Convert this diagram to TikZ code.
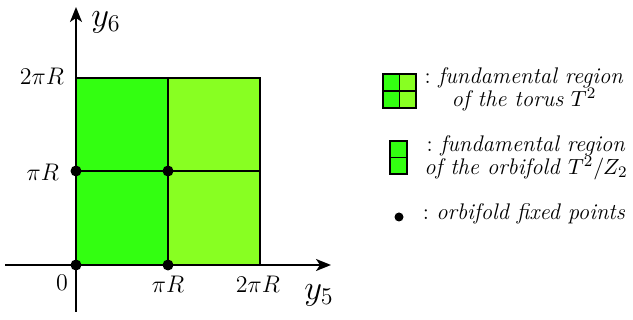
\documentclass[tikz,border=0pt]{standalone}
\usetikzlibrary{arrows.meta}
\definecolor{darkg}{RGB}{51,255,17}
\definecolor{lightg}{RGB}{136,255,34}
\begin{document}
\begin{tikzpicture}[x=0.5pt,y=-0.5pt,
  axis/.style={line width=1pt,-{Stealth[length=7.5pt,width=6pt,inset=2pt]}},
  border/.style={line width=1pt,line join=miter},
  fixdot/.style={circle,fill=black,inner sep=0pt,minimum size=5.5pt},
  tick/.style={font=\fontsize{11.5}{13}\selectfont},
  axlabel/.style={inner sep=0pt,font=\fontsize{16.5}{18}\selectfont},
  legend/.style={align=center,font=\fontsize{11.3}{11.5}\selectfont}]
\useasboundingbox (0,0) rectangle (633,320);
% corners
\coordinate (O) at (76,265);
\coordinate (A) at (168,265);
\coordinate (B) at (260,265);
\coordinate (C) at (76,171);
\coordinate (D) at (168,171);
\coordinate (E) at (260,171);
\coordinate (F) at (76,78);
\coordinate (G) at (168,78);
\coordinate (H) at (260,78);
\coordinate (xs) at (5,265);
\coordinate (xe) at (331,265);
\coordinate (ys) at (76,312);
\coordinate (ye) at (76,7);
% fills
\fill[darkg] (O) rectangle (G);
\fill[lightg] (A) rectangle (H);
\draw[border] (O) -- (F) -- (H) -- (B);
\draw[border] (A) -- (G);
\draw[border] (C) -- (E);
% axes
\draw[axis] (xs) -- (xe);
\draw[axis] (ys) -- (ye);
% dots
\node[fixdot] (d1) at (O) {};
\node[fixdot] (d2) at (A) {};
\node[fixdot] (d3) at (C) {};
\node[fixdot] (d4) at (D) {};
% labels
\node[tick,anchor=east] (l1) at (71,76) {$2\pi R$};
\node[tick,anchor=east] (l2) at (66,172) {$\pi R$};
\node[tick] (l3) at (62,283) {$0$};
\node[tick] (l4) at (168,284) {$\pi R$};
\node[tick] (l5) at (258,284) {$2\pi R$};
\node[axlabel] (y5) at (319,295) {$y_5$};
\node[axlabel] (y6) at (106,22) {$y_6$};
% legend icons
\fill[darkg] (383,74) rectangle (400,91);
\fill[lightg] (400,74) rectangle (416,91);
\fill[darkg] (383,91) rectangle (400,108);
\fill[lightg] (400,91) rectangle (416,108);
\draw[border,line width=0.9pt] (383,74) rectangle (416,108);
\draw[border,line width=0.9pt] (399.5,74) -- (399.5,108);
\draw[border,line width=0.9pt] (383,91) -- (416,91);
\fill[darkg] (390,141) rectangle (407,174);
\draw[border,line width=0.9pt] (390,141) rectangle (407,174);
\draw[border,line width=0.9pt] (390,157.5) -- (407,157.5);
\node[fixdot,minimum size=4.5pt] (ld) at (399,217) {};
% legend texts
\node[legend] (t1) at (524,89) {:~\textit{fundamental region}\\\textit{of the torus} $T^2$};
\node[legend] (t2) at (526,158) {:~\textit{fundamental region}\\\textit{of the orbifold} $T^2/Z_2$};
\node[legend] (t3) at (524,214) {:~\textit{orbifold fixed points}};
\end{tikzpicture}
\end{document}
